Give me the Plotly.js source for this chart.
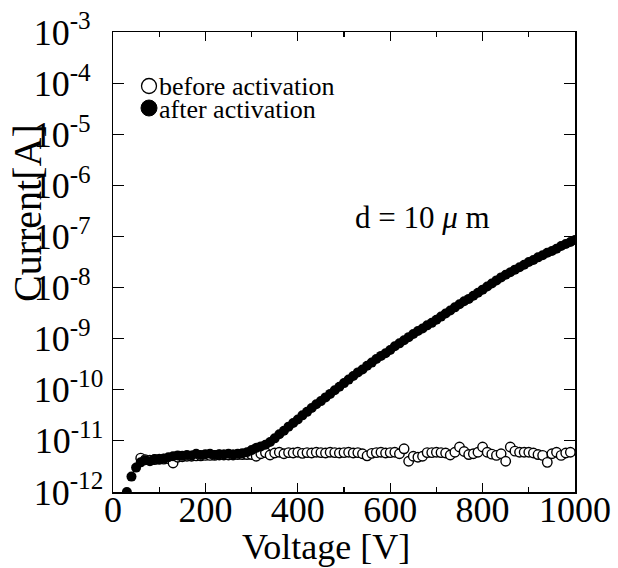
<!DOCTYPE html>
<html>
<head>
<meta charset="utf-8">
<script src="https://cdn.plot.ly/plotly-3.0.1.min.js"></script>
<style>html,body{margin:0;padding:0;background:#fff;}#chart{width:618px;height:568px;}</style>
</head>
<body>
<div id="chart"></div>
<script>
// Voltage [V] for the "after activation" (filled) series
const voltageAfter = [30,40,50,60,70,80,90,100,110,120,130,140,150,160,170,180,190,200,210,220,230,240,250,260,270,280,290,300,310,320,330,340,350,360,370,380,390,400,410,420,430,440,450,460,470,480,490,500,510,520,530,540,550,560,570,580,590,600,610,620,630,640,650,660,670,680,690,700,710,720,730,740,750,760,770,780,790,800,810,820,830,840,850,860,870,880,890,900,910,920,930,940,950,960,970,980,990,1000];
// Current [A] after activation
const currentAfter = [1.0e-12,2.0e-12,3.0e-12,3.8e-12,4.2e-12,4.0e-12,4.4e-12,4.3e-12,4.5e-12,4.8e-12,5.0e-12,5.2e-12,5.1e-12,5.3e-12,5.2e-12,5.6e-12,5.3e-12,5.5e-12,5.6e-12,5.3e-12,5.5e-12,5.4e-12,5.6e-12,5.4e-12,5.6e-12,5.7e-12,6.0e-12,6.6e-12,7.3e-12,7.8e-12,8.4e-12,9.5e-12,1.12e-11,1.35e-11,1.58e-11,1.9e-11,2.24e-11,2.63e-11,3.16e-11,3.7e-11,4.4e-11,5.2e-11,6.0e-11,7.1e-11,8.3e-11,9.8e-11,1.15e-10,1.35e-10,1.58e-10,1.86e-10,2.19e-10,2.5e-10,2.95e-10,3.4e-10,4.0e-10,4.6e-10,5.2e-10,6.0e-10,7.1e-10,8.1e-10,9.3e-10,1.07e-9,1.23e-9,1.41e-9,1.58e-9,1.82e-9,2.04e-9,2.34e-9,2.7e-9,3.1e-9,3.55e-9,4.1e-9,4.7e-9,5.4e-9,6.0e-9,6.9e-9,7.9e-9,9.1e-9,1.05e-8,1.2e-8,1.38e-8,1.58e-8,1.78e-8,2.0e-8,2.24e-8,2.5e-8,2.8e-8,3.16e-8,3.47e-8,3.9e-8,4.3e-8,4.8e-8,5.2e-8,5.75e-8,6.5e-8,7.1e-8,7.8e-8,8.5e-8];
// Voltage [V] for the "before activation" (open) series
const voltageBefore = [60,70,80,90,100,110,120,130,140,150,160,170,180,190,200,210,220,230,240,250,260,270,280,290,300,310,320,330,340,350,360,370,380,390,400,410,420,430,440,450,460,470,480,490,500,510,520,530,540,550,560,570,580,590,600,610,620,630,640,650,660,670,680,690,700,710,720,730,740,750,760,770,780,790,800,810,820,830,840,850,860,870,880,890,900,910,920,930,940,950,960,970,980,990];
// Current [A] before activation
const currentBefore = [4.6e-12,4.3e-12,4.2e-12,4.3e-12,4.4e-12,4.4e-12,4.5e-12,3.7e-12,4.8e-12,4.9e-12,5.0e-12,5.0e-12,5.1e-12,5.1e-12,5.2e-12,5.2e-12,5.2e-12,5.3e-12,5.3e-12,5.3e-12,5.3e-12,5.4e-12,5.4e-12,5.4e-12,5.4e-12,5.0e-12,5.6e-12,5.9e-12,5.3e-12,5.8e-12,6.0e-12,5.6e-12,5.9e-12,5.8e-12,6.0e-12,5.7e-12,5.9e-12,5.8e-12,6.0e-12,5.9e-12,5.8e-12,6.0e-12,5.9e-12,5.8e-12,5.9e-12,6.0e-12,5.8e-12,5.9e-12,5.6e-12,5.1e-12,5.7e-12,5.9e-12,6.0e-12,5.8e-12,5.9e-12,6.0e-12,5.6e-12,7.0e-12,4.0e-12,5.0e-12,4.8e-12,5.0e-12,5.9e-12,5.9e-12,6.0e-12,5.9e-12,5.8e-12,5.3e-12,6.0e-12,7.6e-12,6.2e-12,5.4e-12,5.6e-12,6.0e-12,7.6e-12,6.0e-12,5.5e-12,5.2e-12,5.6e-12,4.0e-12,7.6e-12,6.3e-12,6.0e-12,6.0e-12,6.0e-12,5.8e-12,5.4e-12,5.2e-12,3.8e-12,5.6e-12,6.0e-12,5.2e-12,5.8e-12,6.0e-12];

const yTickVals = [1e-12,1e-11,1e-10,1e-9,1e-8,1e-7,1e-6,1e-5,1e-4,1e-3];
const yTickText = ["10<sup>-12</sup>","10<sup>-11</sup>","10<sup>-10</sup>","10<sup>-9\u00A0\u00A0</sup>","10<sup>-8\u00A0\u00A0</sup>","10<sup>-7\u00A0\u00A0</sup>","10<sup>-6\u00A0\u00A0</sup>","10<sup>-5\u00A0\u00A0</sup>","10<sup>-4\u00A0\u00A0</sup>","10<sup>-3\u00A0\u00A0</sup>"];
const xTickVals = [0,200,400,600,800,1000];
const xTickText = ["0","200","400","600","800","1000"];
const seriesNames = ["before activation","after activation"];
const axisTitles = {x: "Voltage [V]", y: "Current[A]"};
const noteText = "d = 10 <i>μ</i> m";

const FONT = "Liberation Serif, Times New Roman, serif";
const L = 113, R = 43, T = 32, B = 76, W = 618, H = 568;
const pw = W - L - R, ph = H - T - B;
const px = v => (v - L) / pw;      // pixel -> paper x
const py = v => (H - B - v) / ph;  // pixel -> paper y

const traces = [
  {x: voltageBefore, y: currentBefore, name: seriesNames[0], type: "scatter", mode: "markers",
   marker: {symbol: "circle", size: 9.5, color: "#fff", line: {color: "#000", width: 1.4}}, showlegend: false},
  {x: voltageAfter, y: currentAfter, name: seriesNames[1], type: "scatter", mode: "markers",
   marker: {symbol: "circle", size: 10, color: "#000", line: {width: 0}}, showlegend: false}
];

const layout = {
  width: W, height: H,
  margin: {l: L, r: R, t: T, b: B, pad: 0},
  paper_bgcolor: "#fff", plot_bgcolor: "#fff",
  font: {family: FONT, color: "#000", size: 36},
  showlegend: false,
  xaxis: {
    range: [0, 1000], tickvals: xTickVals, ticktext: xTickText,
    ticks: "inside", ticklen: 9, tickwidth: 1.2, tickcolor: "#000",
    minor: {dtick: 100, tick0: 0, ticks: "inside", ticklen: 5, tickwidth: 1.2, tickcolor: "#000"},
    showline: true, linecolor: "#000", linewidth: 1.5, mirror: "ticks",
    showgrid: false, zeroline: false,
    tickfont: {family: FONT, size: 36, color: "#000"}, ticklabelstandoff: -15
  },
  yaxis: {
    type: "log", range: [-12, -3], tickvals: yTickVals, ticktext: yTickText,
    ticks: "inside", ticklen: 11, tickwidth: 1.2, tickcolor: "#000",
    showline: true, linecolor: "#000", linewidth: 1.5, mirror: "ticks",
    showgrid: false, zeroline: false,
    tickfont: {family: FONT, size: 36, color: "#000"}, ticklabelstandoff: 1
  },
  annotations: [
    {text: axisTitles.x, xref: "paper", yref: "paper", x: px(326), y: py(547), xanchor: "center", yanchor: "middle",
     showarrow: false, font: {family: FONT, size: 36, color: "#000"}},
    {text: axisTitles.y, xref: "paper", yref: "paper", x: px(28), y: py(213), xanchor: "center", yanchor: "middle",
     textangle: -90, showarrow: false, font: {family: FONT, size: 40, color: "#000"}},
    {text: noteText, xref: "paper", yref: "paper", x: px(422), y: py(217), xanchor: "center", yanchor: "middle",
     showarrow: false, font: {family: FONT, size: 31, color: "#000"}},
    {text: seriesNames[0], xref: "paper", yref: "paper", x: px(157), y: py(86), xanchor: "left", yanchor: "middle",
     showarrow: false, font: {family: FONT, size: 26, color: "#000"}},
    {text: seriesNames[1], xref: "paper", yref: "paper", x: px(157), y: py(109), xanchor: "left", yanchor: "middle",
     showarrow: false, font: {family: FONT, size: 26, color: "#000"}}
  ],
  shapes: [
    {type: "circle", xref: "paper", yref: "paper", xsizemode: "pixel", ysizemode: "pixel",
     xanchor: px(149), yanchor: py(86), x0: -7.5, x1: 7.5, y0: -7.5, y1: 7.5,
     line: {color: "#000", width: 1.3}, fillcolor: "#fff"},
    {type: "circle", xref: "paper", yref: "paper", xsizemode: "pixel", ysizemode: "pixel",
     xanchor: px(149), yanchor: py(108), x0: -8, x1: 8, y0: -8, y1: 8,
     line: {color: "#000", width: 1}, fillcolor: "#000"}
  ]
};

Plotly.newPlot("chart", traces, layout, {displayModeBar: false, staticPlot: true});
</script>
</body>
</html>
